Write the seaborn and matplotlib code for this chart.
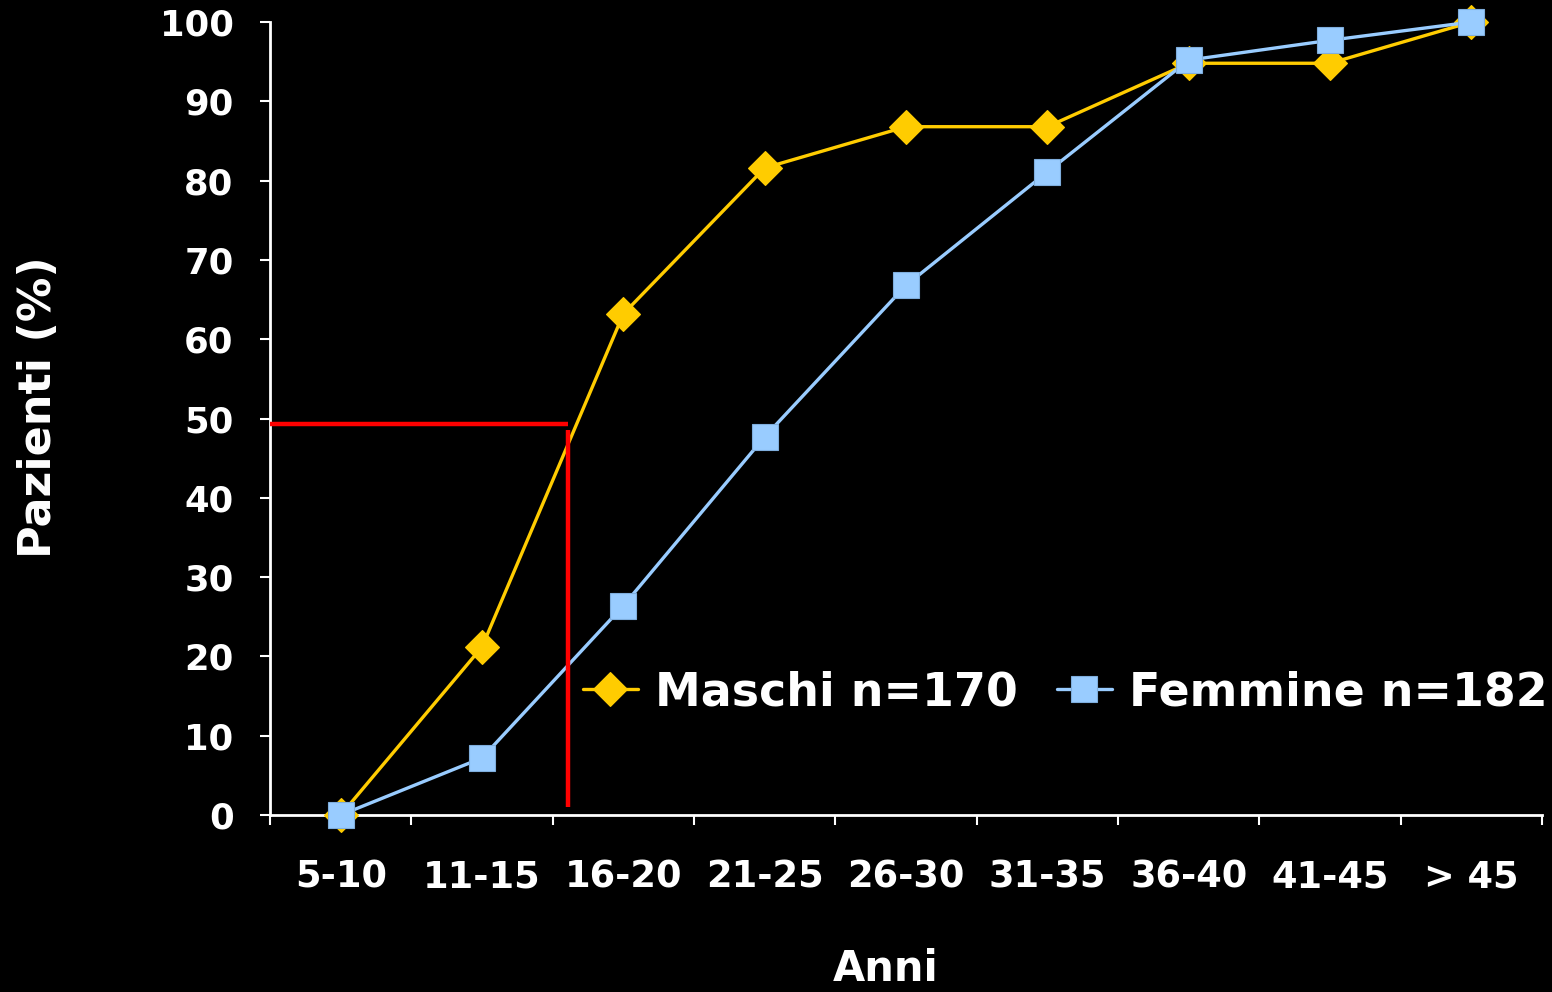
import matplotlib
matplotlib.use("Agg")
import matplotlib.pyplot as plt
import seaborn as sns
import pandas as pd
import numpy as np

# Age classes and cumulative share of patients (%)
age_classes = ["5-10", "11-15", "16-20", "21-25", "26-30", "31-35", "36-40", "41-45", "> 45"]
maschi = [0, 21.2, 63.2, 81.6, 86.8, 86.8, 94.8, 94.8, 100]
femmine = [0, 7.2, 26.4, 47.7, 66.8, 81.1, 95.2, 97.7, 100]
label_m = "Maschi n=170"
label_f = "Femmine n=182"

# Median reference: 50% of males reached at this position on the class axis
median_level = 49.3
median_pos = 1.61
median_floor = 1.0

sns.set_theme(style="dark")
plt.rcParams["font.family"] = ["DejaVu Sans"]

df = pd.DataFrame({
    "pos": list(range(len(age_classes))) * 2,
    "val": maschi + femmine,
    "serie": [label_m] * len(maschi) + [label_f] * len(femmine),
})

fig = plt.figure(figsize=(15.52, 9.92), dpi=100, facecolor="black")
ax = fig.add_axes([0.174, 0.1784, 0.8196, 0.7994])
ax.set_facecolor("black")

colors = {label_m: "#FFCC00", label_f: "#99CCFF"}
markers = {label_m: "D", label_f: "s"}
sizes = {label_m: 17.5, label_f: 18.5}
edges = {label_m: "#FFCC00", label_f: "#7FAEDD"}

for name in [label_m, label_f]:
    sub = df[df["serie"] == name]
    sns.lineplot(data=sub, x="pos", y="val", ax=ax, color=colors[name],
                 linewidth=2.4, marker=markers[name], markersize=sizes[name],
                 markeredgecolor=edges[name], markeredgewidth=0.8,
                 label=name, zorder=3, clip_on=False)

# Red guide lines for the 50% crossing
ax.plot([-0.5, median_pos], [median_level, median_level], color="#FF0000",
        linewidth=3.2, solid_capstyle="butt", zorder=4, clip_on=False)
ax.plot([median_pos, median_pos], [median_level - 0.8, median_floor], color="#FF0000",
        linewidth=3.2, solid_capstyle="butt", zorder=4)

ax.set_xlim(-0.5, len(age_classes) - 0.5)
ax.set_ylim(0, 100)
ax.set_yticks(range(0, 101, 10))
ax.set_xticks(range(len(age_classes)))
ax.set_xticks(np.arange(-0.5, len(age_classes), 1.0), minor=True)
ax.set_xticklabels(age_classes, fontsize=26.5, fontweight="bold", color="white")
ax.set_yticklabels([str(v) for v in range(0, 101, 10)], fontsize=25.5,
                   fontweight="bold", color="white")
ax.tick_params(which="both", bottom=True, left=True, top=False, right=False)
ax.tick_params(axis="x", which="major", length=0, pad=31)
ax.tick_params(axis="x", which="minor", length=7.2, width=1.5, color="white",
               direction="out")
ax.tick_params(axis="y", which="major", length=7.2, width=1.5, color="white",
               direction="out", pad=19)

for side in ["top", "right"]:
    ax.spines[side].set_visible(False)
for side in ["left", "bottom"]:
    ax.spines[side].set_visible(True)
    ax.spines[side].set_color("white")
    ax.spines[side].set_linewidth(2)
ax.grid(False)

ax.set_xlabel("Anni", fontsize=30, fontweight="bold", color="white")
ax.xaxis.set_label_coords(0.484, -0.168)
ax.set_ylabel("Pazienti (%)", fontsize=32, fontweight="bold", color="white")
ax.yaxis.set_label_coords(-0.165, 0.514)

leg = ax.legend(loc="center left", bbox_to_anchor=(0.246, 0.154), ncol=2,
                frameon=False, handlelength=1.2, handletextpad=0.37,
                columnspacing=0.85, borderaxespad=0, borderpad=0,
                prop={"size": 33, "weight": "bold"})
for t in leg.get_texts():
    t.set_color("white")

fig.savefig("out.png", dpi=100, facecolor="black")
